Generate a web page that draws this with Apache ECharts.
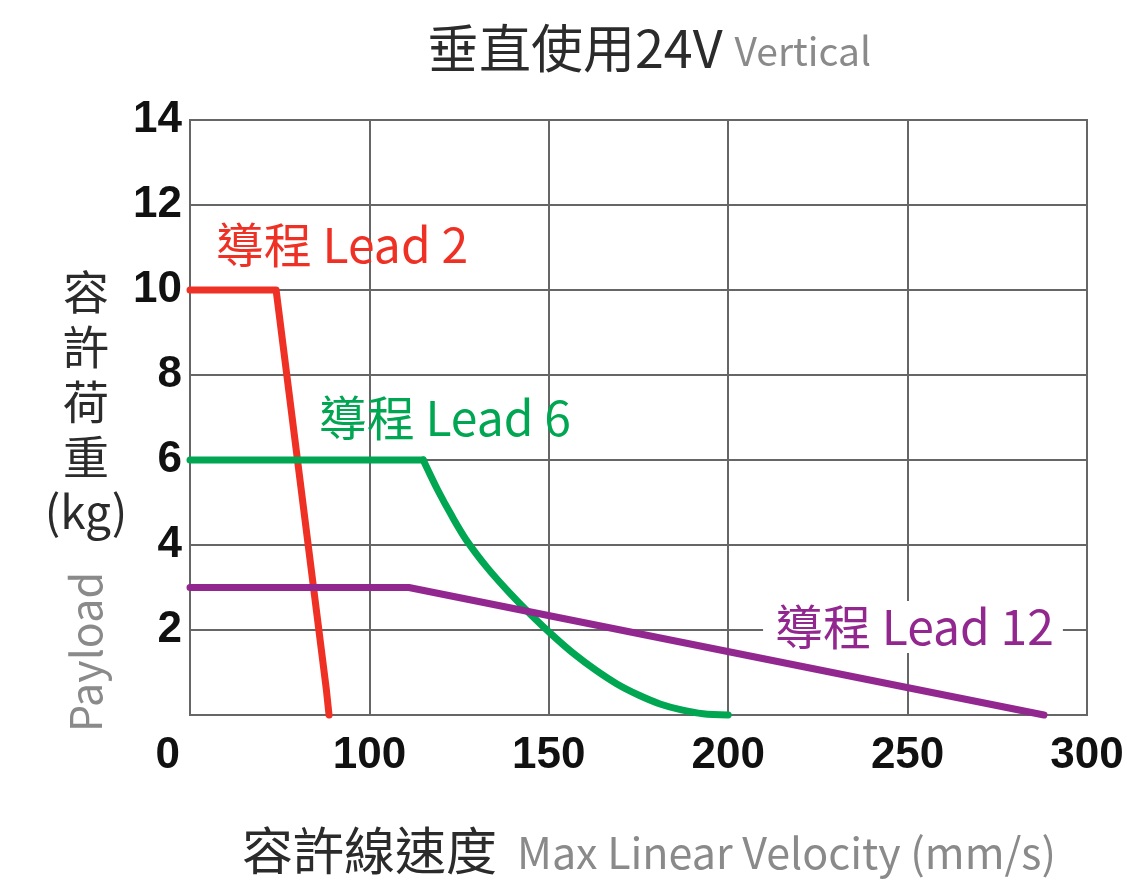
<!DOCTYPE html>
<html>
<head>
<meta charset="utf-8">
<script src="https://cdn.jsdelivr.net/npm/echarts@6/dist/echarts.min.js"></script>
<style>
  html, body { margin: 0; padding: 0; background: #fff; }
  #chart { width: 1127px; height: 882px; }
</style>
</head>
<body>
<div id="chart"></div>
<script>
// Velocity ticks along the x axis (mm/s); they are drawn equally spaced.
const xTicks = [0, 100, 150, 200, 250, 300];
// Payload ticks (kg)
const yTicks = [0, 2, 4, 6, 8, 10, 12, 14];

// [velocity mm/s, payload kg]
const lead2 = [[0, 10], [48, 10], [76, 0.6], [77.5, 0]];
const lead6 = [
  [0, 6], [115, 6], [119, 5.3], [123, 4.68], [127, 4.12], [133, 3.45],
  [139, 2.88], [145, 2.36], [151, 1.88], [157, 1.44], [163, 1.06],
  [169, 0.73], [175, 0.47], [181, 0.26], [187, 0.12], [193, 0.03], [200, 0]
];
const lead12 = [[0, 3], [111, 3], [288, 0]];

const seriesNames = ['導程 Lead 2', '導程 Lead 6', '導程 Lead 12'];
const colors = ['#EE3124', '#00A651', '#92278F'];

// The velocity axis has equal spacing between unequal tick values,
// so velocities are placed piecewise-linearly between neighbouring ticks.
function toAxis(v) {
  for (let i = 0; i < xTicks.length - 1; i++) {
    if (v <= xTicks[i + 1]) {
      return i + (v - xTicks[i]) / (xTicks[i + 1] - xTicks[i]);
    }
  }
  return xTicks.length - 1;
}
const onAxis = pts => pts.map(p => [toAxis(p[0]), p[1]]);

const CJK = '"Noto Sans CJK TC", "Noto Sans", sans-serif';
const NUM = '"Liberation Sans", Arial, sans-serif';
const GRID = '#666';

function plainLine(i, data, smooth) {
  return {
    name: seriesNames[i],
    type: 'line',
    data: onAxis(data),
    symbol: 'none',
    clip: false,
    smooth: smooth || false,
    lineStyle: { color: colors[i], width: 7, cap: 'round', join: 'round' }
  };
}

function labelledLine(i, data, labelAt, opts) {
  opts = opts || {};
  const s = plainLine(i, data, opts.smooth);
  s.markPoint = {
    symbol: 'circle',
    symbolSize: 1,
    itemStyle: { color: 'rgba(0,0,0,0)' },
    silent: true,
    data: [{ coord: [toAxis(labelAt[0]), labelAt[1]] }],
    label: Object.assign({
      show: true,
      position: 'inside',
      formatter: seriesNames[i],
      color: colors[i],
      fontFamily: CJK,
      fontSize: 48
    }, opts.label || {})
  };
  return s;
}

// Lead 6: flat run up to the knee, then the smooth fall-off curve
const lead6Flat = lead6.slice(0, 2);
const lead6Curve = lead6.slice(1);

const chart = echarts.init(document.getElementById('chart'), null, { renderer: 'canvas' });
chart.setOption({
  animation: false,
  backgroundColor: '#fff',
  grid: {
    left: 190, right: 40, top: 120, bottom: 167,
    show: true, borderColor: GRID, borderWidth: 2
  },
  xAxis: {
    type: 'value',
    min: 0,
    max: xTicks.length - 1,
    interval: 1,
    axisLine: { show: true, lineStyle: { color: GRID, width: 2 } },
    axisTick: { show: false },
    splitLine: { show: true, lineStyle: { color: GRID, width: 2 } },
    axisLabel: {
      margin: 19,
      color: '#111',
      fontFamily: NUM,
      fontWeight: 'bold',
      fontSize: 44,
      alignMinLabel: 'right',
      formatter: v => {
        const t = xTicks[Math.round(v)];
        return v === 0 ? '{o|' + t + '}' : String(t);
      },
      rich: {
        o: { color: '#111', fontFamily: NUM, fontWeight: 'bold', fontSize: 44, padding: [0, 10, 0, 0] }
      }
    }
  },
  yAxis: {
    type: 'value',
    min: yTicks[0],
    max: yTicks[yTicks.length - 1],
    interval: 2,
    axisLine: { show: true, lineStyle: { color: GRID, width: 2 } },
    axisTick: { show: false },
    splitLine: { show: true, lineStyle: { color: GRID, width: 2 } },
    axisLabel: {
      margin: 8,
      color: '#111',
      fontFamily: NUM,
      fontWeight: 'bold',
      fontSize: 44,
      formatter: v => (v === 0 ? '' : String(v))
    }
  },
  series: [
    labelledLine(0, lead2, [84.7, 11.06]),
    plainLine(1, lead6Flat),
    labelledLine(1, lead6Curve, [121, 7.0], { smooth: 0.3 }),
    labelledLine(2, lead12, [251.5, 2.07], { label: { backgroundColor: '#fff', padding: [2, 9, 2, 12] } })
  ],
  graphic: [
    {
      type: 'text',
      x: 649, y: 48,
      style: {
        text: '{a|垂直使用24V}{b|Vertical}',
        align: 'center',
        verticalAlign: 'middle',
        rich: {
          a: { fontFamily: CJK, fontSize: 52, fill: '#2b2b2b' },
          b: { fontFamily: CJK, fontSize: 39, fill: '#8a8a8a', padding: [6, 0, 0, 12] }
        }
      }
    },
    {
      type: 'text',
      x: 649, y: 851,
      style: {
        text: '{a|容許線速度}{b|Max Linear Velocity (mm/s)}',
        align: 'center',
        verticalAlign: 'middle',
        rich: {
          a: { fontFamily: CJK, fontSize: 51, fill: '#2b2b2b' },
          b: { fontFamily: CJK, fontSize: 43, fill: '#8a8a8a', padding: [4, 0, 0, 20] }
        }
      }
    },
    {
      type: 'text',
      x: 86, y: 402,
      style: {
        text: '容\n許\n荷\n重\n(kg)',
        align: 'center',
        verticalAlign: 'middle',
        fontFamily: CJK,
        fontSize: 46,
        lineHeight: 55,
        fill: '#2b2b2b'
      }
    },
    {
      type: 'text',
      x: 86, y: 652,
      rotation: Math.PI / 2,
      style: {
        text: 'Payload',
        align: 'center',
        verticalAlign: 'middle',
        fontFamily: CJK,
        fontSize: 43,
        fill: '#8a8a8a'
      }
    }
  ]
});
</script>
</body>
</html>
